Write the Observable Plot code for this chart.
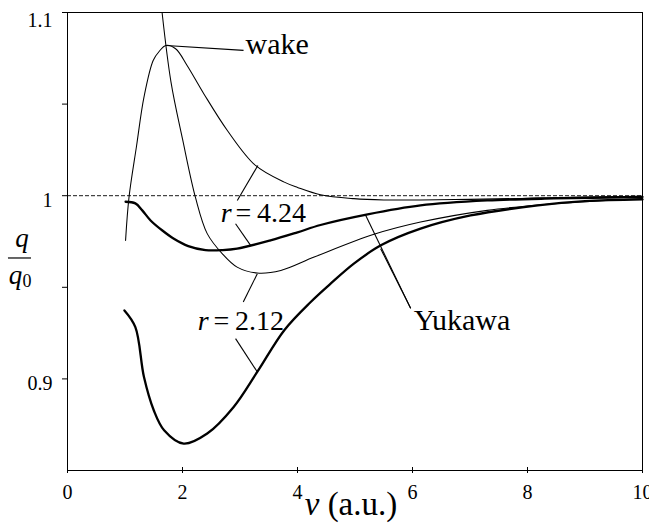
<!DOCTYPE html>
<html>
<head>
<meta charset="utf-8">
<script src="https://cdn.jsdelivr.net/npm/d3@7"></script>
<script src="https://cdn.jsdelivr.net/npm/@observablehq/plot@0.6"></script>
<style>
  html, body { margin: 0; padding: 0; background: white; }
  svg text { font-family: "Liberation Serif", serif; }
</style>
</head>
<body>
<script>
// ---- data ----
const xTicks = [0, 2, 4, 6, 8, 10];
const yTicks = [0.9, 0.95, 1, 1.05, 1.1];
const yLabels = [0.9, 1, 1.1];

// wake potential, r = 4.24 (thin)
const wake424_v = [1.01, 1.07, 1.2, 1.33, 1.49, 1.6, 1.71, 1.88, 2.08, 2.37, 2.78, 3.27, 3.77, 4.0, 4.4, 4.98, 5.5, 6.14, 7.0, 7.88, 8.8, 10];
const wake424_q = [0.9756, 0.9992, 1.027, 1.0538, 1.0738, 1.079, 1.082, 1.0802, 1.0711, 1.0557, 1.0356, 1.0165, 1.0074, 1.0045, 1.0005, 0.9984, 0.9977, 0.9977, 0.998, 0.9985, 0.9992, 0.9997];

// wake potential, r = 2.12 (thin)
const wake212_v = [1.645, 1.8, 2.0, 2.23, 2.43, 2.69, 2.95, 3.3, 3.71, 4.29, 5.33, 6.14, 7.3, 8.46, 10];
const wake212_q = [1.1, 1.062, 1.031, 0.9985, 0.9793, 0.9684, 0.961, 0.9578, 0.9592, 0.9665, 0.9789, 0.9856, 0.992, 0.9956, 0.9985];

// Yukawa potential, r = 4.24 (thick)
const yuk424_v = [1.01, 1.18, 1.3, 1.445, 1.65, 1.85, 2.1, 2.4, 2.7, 2.95, 3.53, 4.0, 4.4, 5.22, 6.14, 7.3, 8.46, 10];
const yuk424_q = [0.9967, 0.9958, 0.992, 0.9865, 0.981, 0.9765, 0.9725, 0.9703, 0.9703, 0.9711, 0.9756, 0.98, 0.984, 0.9898, 0.9947, 0.9974, 0.9985, 0.9993];

// Yukawa potential, r = 2.12 (thick)
const yuk212_v = [0.99, 1.18, 1.33, 1.5, 1.68, 2.02, 2.43, 2.89, 3.3, 3.77, 4.23, 4.58, 4.98, 5.45, 6.14, 7.01, 8.18, 9.0, 10];
const yuk212_q = [0.9374, 0.9283, 0.901, 0.8829, 0.872, 0.8647, 0.8702, 0.8847, 0.9038, 0.9266, 0.942, 0.9521, 0.9629, 0.9729, 0.982, 0.9892, 0.9947, 0.997, 0.998];

// annotation leader lines (data units)
const leadX1 = [1.717, 2.953, 2.923, 3.057, 2.923, 5.968, 5.968];
const leadY1 = [1.082, 0.9974, 0.9847, 0.942, 0.922, 0.9385, 0.9385];
const leadX2 = [3.062, 3.311, 3.184, 3.301, 3.301, 5.185, 5.446];
const leadY2 = [1.0793, 1.0165, 0.9729, 0.9574, 0.9038, 0.9893, 0.9711];

// annotation labels
const rSym = ["r", "r"];
const rSymX = [2.854, 2.454];
const rSymY = [0.9854, 0.9265];
const rVal = ["=\u20094.24", "=\u20092.12"];
const rValX = [2.923, 2.54];

const words = ["wake", "Yukawa"];
const wordsX = [3.097, 6.021];
const wordsY = [1.0776, 0.9269];

const thin = 1.05, thick = 2.3;
const FF = "Liberation Serif";

const chart = Plot.plot({
  width: 649,
  height: 531,
  marginLeft: 67,
  marginRight: 7,
  marginTop: 12,
  marginBottom: 61,
  x: {domain: [0, 10], axis: null},
  y: {domain: [0.85, 1.1], axis: null},
  style: {fontFamily: FF, background: "white", color: "black", overflow: "visible"},
  marks: [
    Plot.ruleY([1], {stroke: "black", strokeWidth: 0.9, strokeDasharray: "4,2"}),
    Plot.line(wake424_q, {x: wake424_v, y: wake424_q, curve: "catmull-rom", stroke: "black", strokeWidth: thin}),
    Plot.line(wake212_q, {x: wake212_v, y: wake212_q, curve: "catmull-rom", stroke: "black", strokeWidth: thin}),
    Plot.line(yuk424_q, {x: yuk424_v, y: yuk424_q, curve: "catmull-rom", stroke: "black", strokeWidth: thick}),
    Plot.line(yuk212_q, {x: yuk212_v, y: yuk212_q, curve: "catmull-rom", stroke: "black", strokeWidth: thick}),
    Plot.link(leadX1, {x1: leadX1, y1: leadY1, x2: leadX2, y2: leadY2, stroke: "black", strokeWidth: 1.1}),
    Plot.text(rSym, {x: rSymX, y: rSymY, text: d => d, textAnchor: "end", lineAnchor: "bottom", fontStyle: "italic", fontSize: 28, fontFamily: FF}),
    Plot.text(rVal, {x: rValX, y: rSymY, text: d => d, textAnchor: "start", lineAnchor: "bottom", fontSize: 28, fontFamily: FF}),
    Plot.text(words, {x: wordsX, y: wordsY, text: d => d, textAnchor: "start", lineAnchor: "bottom", fontSize: 30, fontFamily: FF}),
    // frame and ticks
    Plot.frame({stroke: "black", strokeWidth: 1}),
    Plot.tickX(xTicks, {x: d => d, insetTop: 455, insetBottom: -3, stroke: "black", strokeWidth: 1}),
    Plot.tickY(yTicks, {y: d => d, insetLeft: -5, insetRight: 575, stroke: "black", strokeWidth: 1}),
    Plot.text(xTicks, {x: d => d, frameAnchor: "bottom", dy: 28, lineAnchor: "bottom", text: d => String(d), fontSize: 20, fontFamily: FF}),
    Plot.text(yLabels.filter(d => d < 1.05), {y: d => d, frameAnchor: "left", dx: -15, dy: 11.5, textAnchor: "end", lineAnchor: "bottom", text: d => String(d), fontSize: 20, fontFamily: FF}),
    Plot.text(yLabels.filter(d => d > 1.05), {y: d => d, frameAnchor: "left", dx: -15, dy: 14, textAnchor: "end", lineAnchor: "bottom", text: d => String(d), fontSize: 20, fontFamily: FF}),
    // axis titles
    Plot.text(["v"], {x: [4.254], y: [0.8256], text: d => d, textAnchor: "middle", lineAnchor: "bottom", fontStyle: "italic", fontSize: 33, fontFamily: FF}),
    Plot.text(["(a.u.)"], {x: [4.524], y: [0.8256], text: d => d, textAnchor: "start", lineAnchor: "bottom", fontSize: 33, fontFamily: FF}),
    Plot.text(["q"], {x: [-0.792], y: [0.9718], text: d => d, textAnchor: "middle", lineAnchor: "bottom", fontStyle: "italic", fontSize: 27, fontFamily: FF}),
    Plot.ruleY([0.966], {x1: -1.027, x2: -0.626, stroke: "black", strokeWidth: 1.2}),
    Plot.text(["q"], {x: [-0.905], y: [0.9516], text: d => d, textAnchor: "middle", lineAnchor: "bottom", fontStyle: "italic", fontSize: 27, fontFamily: FF}),
    Plot.text(["0"], {x: [-0.783], y: [0.950], text: d => d, textAnchor: "start", lineAnchor: "bottom", fontSize: 18, fontFamily: FF})
  ]
});
document.body.append(chart);
</script>
</body>
</html>
